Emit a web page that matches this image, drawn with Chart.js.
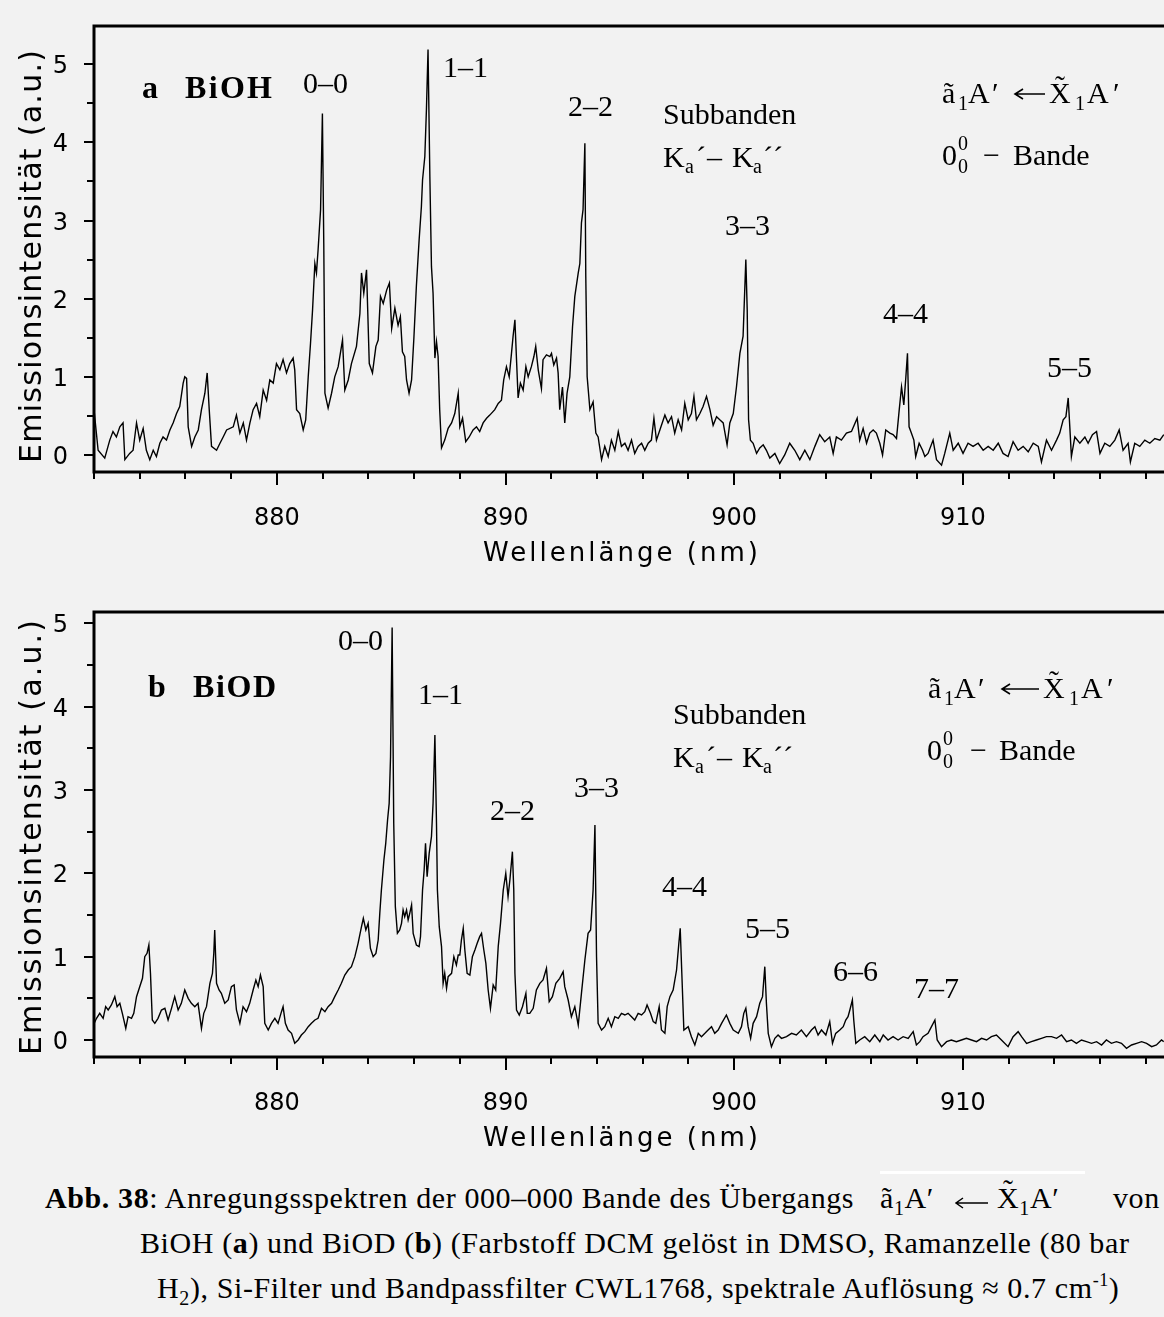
<!DOCTYPE html>
<html>
<head>
<meta charset="utf-8">
<title>BiOH / BiOD Anregungsspektren</title>
<script src="https://cdn.jsdelivr.net/npm/chart.js@4.4.1/dist/chart.umd.min.js"></script>
<style>
  html, body { margin: 0; padding: 0; background: #f2f2f2; }
  body { position: relative; width: 1164px; height: 1317px; overflow: hidden; }
  canvas { position: absolute; left: 0; }
  #chartA { top: 0; }
  #chartB { top: 590px; }
  .c { position: absolute; font: 30px 'Liberation Serif', 'Times New Roman', serif; letter-spacing: 0.6px; line-height: 30px; white-space: nowrap; color: #000; }
  .lo { font-size: 20px; position: relative; top: 7px; }
  .hi { font-size: 18px; position: relative; top: -12px; }
  .tx { position: relative; }
  .tx i { position: absolute; left: 6px; top: -6px; font-style: normal; }
  #bar { position: absolute; left: 880px; top: 1171px; width: 205px; height: 3px; background: #fff; }
  #arr { position: absolute; left: 954px; top: 1196px; }
</style>
</head>
<body>
<canvas id="chartA" width="1164" height="590"></canvas>
<canvas id="chartB" width="1164" height="575"></canvas>

<div id="bar"></div>
<div class="c" style="left:45px;top:1183px"><b>Abb. 38</b>: Anregungsspektren der 000–000 Bande des Übergangs</div>
<div class="c" style="left:880px;top:1183px">ã<span class="lo">1</span>A′</div>
<svg id="arr" width="36" height="14" viewBox="0 0 36 14"><path d="M34 7 H2 M9 2 L2 7 L9 12" fill="none" stroke="#000" stroke-width="1.5"/></svg>
<div class="c" style="left:997px;top:1183px"><span class="tx">X<i>˜</i></span><span class="lo">1</span>A′</div>
<div class="c" style="left:1113px;top:1183px">von</div>
<div class="c" style="left:140px;top:1228px">BiOH (<b>a</b>) und BiOD (<b>b</b>) (Farbstoff DCM gelöst in DMSO, Ramanzelle (80 bar</div>
<div class="c" style="left:157px;top:1273px">H<span class="lo">2</span>), Si-Filter und Bandpassfilter CWL1768, spektrale Auflösung ≈ 0.7 cm<span class="hi">-1</span>)</div>

<script>
// axis ticks (nm / a.u.)
const xMinorTicks = [872, 874, 876, 878, 880, 882, 884, 886, 888, 890, 892, 894, 896, 898, 900, 902, 904, 906, 908, 910, 912, 914, 916, 918];
const xTickLabels = [880, 890, 900, 910];
const yMinorTicks = [0, 0.5, 1, 1.5, 2, 2.5, 3, 3.5, 4, 4.5, 5];
const yTickLabels = [0, 1, 2, 3, 4, 5];
const xTitle = 'Wellenlänge (nm)';
const yTitle = 'Emissionsintensität (a.u.)';

// BiOH excitation spectrum [wavelength nm, intensity]
const spectrumA = [
  [872.00, 0.58], [872.18, 0.06], [872.47, -0.04], [872.69, 0.19], [872.83, 0.30], [872.98, 0.23], [873.13, 0.36], [873.27, 0.41],
  [873.35, -0.06], [873.56, 0.02], [873.71, 0.06], [873.86, 0.41], [874.00, 0.19], [874.15, 0.34], [874.29, 0.06], [874.44, -0.06],
  [874.59, 0.06], [874.73, -0.02], [874.88, 0.15], [875.02, 0.23], [875.17, 0.19], [875.32, 0.32], [875.46, 0.41], [875.61, 0.53],
  [875.75, 0.62], [875.90, 0.92], [875.97, 1.00], [876.05, 0.98], [876.12, 0.36], [876.27, 0.11], [876.41, 0.23], [876.56, 0.32],
  [876.70, 0.58], [876.85, 0.79], [876.95, 1.05], [877.04, 0.58], [877.14, 0.11], [877.36, 0.06], [877.51, 0.15], [877.65, 0.23],
  [877.80, 0.32], [878.09, 0.36], [878.23, 0.51], [878.38, 0.28], [878.53, 0.41], [878.67, 0.19], [878.82, 0.41], [878.96, 0.58],
  [879.11, 0.66], [879.25, 0.49], [879.40, 0.83], [879.55, 0.70], [879.69, 0.96], [879.84, 0.92], [879.98, 1.17], [880.13, 1.09],
  [880.27, 1.22], [880.42, 1.05], [880.56, 1.17], [880.71, 1.24], [880.78, 1.09], [880.86, 0.58], [881.00, 0.53], [881.15, 0.32],
  [881.26, 0.45], [881.37, 1.00], [881.47, 1.43], [881.56, 1.86], [881.66, 2.45], [881.73, 2.33], [881.80, 2.62], [881.91, 3.14],
  [881.99, 4.37], [882.05, 2.71], [882.10, 0.79], [882.24, 0.60], [882.39, 0.79], [882.53, 1.00], [882.68, 1.13], [882.87, 1.47],
  [882.97, 0.83], [883.12, 0.96], [883.26, 1.17], [883.48, 1.39], [883.63, 1.81], [883.70, 2.33], [883.80, 2.07], [883.92, 2.37],
  [884.04, 1.17], [884.18, 1.05], [884.33, 1.39], [884.43, 1.47], [884.53, 2.03], [884.65, 1.94], [884.80, 2.11], [884.92, 2.20],
  [885.02, 1.62], [885.16, 1.88], [885.30, 1.66], [885.40, 1.77], [885.49, 1.32], [885.59, 1.26], [885.67, 0.96], [885.78, 0.79],
  [885.89, 0.96], [885.99, 1.49], [886.10, 2.16], [886.22, 2.75], [886.32, 3.18], [886.37, 3.52], [886.47, 3.82], [886.54, 4.42],
  [886.61, 5.19], [886.69, 3.56], [886.76, 2.41], [886.83, 2.07], [886.91, 1.24], [886.98, 1.45], [887.05, 1.26], [887.12, 0.58],
  [887.20, 0.09], [887.34, 0.19], [887.49, 0.34], [887.64, 0.41], [887.78, 0.53], [887.93, 0.79], [888.00, 0.36], [888.12, 0.47],
  [888.26, 0.17], [888.41, 0.23], [888.58, 0.32], [888.73, 0.36], [888.87, 0.30], [889.02, 0.41], [889.17, 0.47], [889.31, 0.51],
  [889.53, 0.58], [889.68, 0.66], [889.82, 0.70], [889.92, 0.96], [890.04, 1.13], [890.16, 1.00], [890.26, 1.30], [890.33, 1.52],
  [890.41, 1.73], [890.48, 1.22], [890.55, 0.73], [890.65, 0.92], [890.77, 0.83], [890.89, 1.13], [890.99, 1.00], [891.13, 1.13],
  [891.24, 1.26], [891.32, 1.39], [891.43, 1.09], [891.57, 0.85], [891.64, 1.22], [891.79, 1.28], [891.94, 1.26], [892.01, 1.30],
  [892.11, 1.15], [892.23, 1.24], [892.30, 1.05], [892.37, 0.58], [892.49, 0.87], [892.59, 0.41], [892.69, 0.79], [892.81, 1.00],
  [892.93, 1.64], [893.03, 2.03], [893.18, 2.33], [893.25, 2.45], [893.32, 2.97], [893.39, 3.14], [893.47, 3.99], [893.51, 2.28],
  [893.57, 1.00], [893.69, 0.58], [893.83, 0.68], [893.95, 0.28], [894.05, 0.23], [894.20, -0.06], [894.34, 0.11], [894.49, -0.02],
  [894.63, 0.19], [894.78, 0.06], [894.93, 0.30], [895.07, 0.11], [895.22, 0.15], [895.36, 0.06], [895.51, 0.19], [895.65, 0.02],
  [895.80, 0.11], [895.95, 0.15], [896.09, 0.06], [896.24, 0.15], [896.38, 0.19], [896.49, 0.47], [896.60, 0.19], [896.75, 0.32],
  [896.97, 0.51], [897.11, 0.41], [897.26, 0.49], [897.40, 0.28], [897.55, 0.45], [897.70, 0.32], [897.84, 0.66], [897.99, 0.45],
  [898.13, 0.53], [898.24, 0.75], [898.35, 0.45], [898.50, 0.53], [898.64, 0.62], [898.79, 0.75], [898.94, 0.58], [899.08, 0.38],
  [899.23, 0.49], [899.37, 0.45], [899.52, 0.41], [899.69, 0.13], [899.81, 0.41], [899.96, 0.53], [900.10, 0.87], [900.25, 1.30],
  [900.39, 1.52], [900.51, 2.50], [900.57, 1.86], [900.63, 0.45], [900.71, 0.19], [900.83, 0.15], [900.98, 0.02], [901.12, 0.09],
  [901.27, 0.13], [901.41, 0.06], [901.56, -0.04], [901.78, 0.02], [901.99, -0.11], [902.21, 0.00], [902.43, 0.15], [902.65, 0.06],
  [902.87, -0.06], [903.09, 0.06], [903.31, -0.06], [903.53, 0.11], [903.74, 0.26], [903.96, 0.17], [904.18, 0.23], [904.33, 0.02],
  [904.47, 0.23], [904.69, 0.19], [904.91, 0.28], [905.13, 0.30], [905.38, 0.47], [905.49, 0.19], [905.64, 0.34], [905.79, 0.15],
  [905.93, 0.28], [906.08, 0.32], [906.22, 0.28], [906.37, 0.15], [906.49, 0.00], [906.63, 0.32], [906.81, 0.28], [906.95, 0.26],
  [907.10, 0.21], [907.22, 0.58], [907.32, 0.87], [907.42, 0.64], [907.51, 1.00], [907.58, 1.30], [907.65, 0.36], [907.75, 0.28],
  [907.86, 0.19], [907.94, -0.02], [908.09, 0.15], [908.24, 0.06], [908.34, -0.02], [908.48, 0.02], [908.70, 0.19], [908.85, -0.06],
  [909.07, -0.13], [909.21, 0.02], [909.43, 0.28], [909.58, 0.06], [909.80, 0.15], [910.01, 0.02], [910.23, 0.15], [910.45, 0.11],
  [910.67, 0.15], [910.89, 0.06], [911.11, 0.11], [911.33, 0.06], [911.55, 0.15], [911.76, 0.02], [911.98, -0.02], [912.20, 0.17],
  [912.42, 0.06], [912.64, 0.11], [912.86, 0.04], [913.08, 0.15], [913.30, 0.11], [913.44, -0.09], [913.66, 0.19], [913.88, 0.06],
  [914.10, 0.19], [914.24, 0.28], [914.39, 0.45], [914.51, 0.49], [914.61, 0.73], [914.68, 0.36], [914.75, -0.02], [914.90, 0.23],
  [915.12, 0.15], [915.34, 0.23], [915.48, 0.15], [915.67, 0.26], [915.85, 0.30], [916.00, 0.02], [916.21, 0.15], [916.43, 0.11],
  [916.65, 0.19], [916.84, 0.32], [917.01, 0.06], [917.23, 0.15], [917.33, -0.09], [917.52, 0.15], [917.74, 0.11], [917.96, 0.19],
  [918.18, 0.15], [918.40, 0.21], [918.62, 0.19], [918.79, 0.26]
];

// BiOD excitation spectrum [wavelength nm, intensity]
const spectrumB = [
  [872.01, 0.20], [872.11, 0.26], [872.25, 0.32], [872.40, 0.26], [872.51, 0.40], [872.62, 0.36], [872.76, 0.42], [872.91, 0.52],
  [873.01, 0.40], [873.13, 0.44], [873.24, 0.32], [873.39, 0.14], [873.49, 0.28], [873.64, 0.26], [873.74, 0.32], [873.86, 0.52],
  [874.00, 0.64], [874.12, 0.74], [874.22, 1.00], [874.32, 1.04], [874.40, 1.14], [874.47, 0.80], [874.55, 0.24], [874.66, 0.20],
  [874.80, 0.26], [874.95, 0.36], [875.10, 0.38], [875.24, 0.24], [875.39, 0.38], [875.53, 0.52], [875.68, 0.36], [875.82, 0.44],
  [875.97, 0.60], [876.12, 0.50], [876.26, 0.44], [876.41, 0.40], [876.55, 0.44], [876.70, 0.14], [876.80, 0.32], [876.92, 0.40],
  [877.07, 0.68], [877.18, 0.80], [877.24, 1.04], [877.28, 1.32], [877.36, 0.68], [877.47, 0.60], [877.57, 0.56], [877.72, 0.44],
  [877.87, 0.48], [878.01, 0.64], [878.13, 0.66], [878.23, 0.36], [878.38, 0.20], [878.52, 0.40], [878.67, 0.34], [878.81, 0.44],
  [878.96, 0.60], [879.08, 0.72], [879.18, 0.64], [879.28, 0.78], [879.40, 0.64], [879.47, 0.20], [879.62, 0.12], [879.76, 0.20],
  [879.91, 0.26], [880.05, 0.20], [880.20, 0.34], [880.27, 0.40], [880.37, 0.20], [880.49, 0.12], [880.64, 0.08], [880.78, -0.04],
  [880.93, 0.00], [881.07, 0.06], [881.22, 0.10], [881.37, 0.16], [881.51, 0.20], [881.66, 0.24], [881.80, 0.26], [881.95, 0.38],
  [882.10, 0.34], [882.24, 0.40], [882.39, 0.44], [882.53, 0.52], [882.68, 0.60], [882.82, 0.68], [882.97, 0.78], [883.12, 0.84],
  [883.26, 0.88], [883.41, 1.00], [883.55, 1.16], [883.70, 1.36], [883.78, 1.46], [883.89, 1.32], [883.99, 1.40], [884.09, 1.10],
  [884.21, 1.00], [884.33, 1.04], [884.43, 1.20], [884.50, 1.52], [884.57, 1.80], [884.68, 2.16], [884.76, 2.36], [884.84, 2.64],
  [884.91, 2.84], [884.97, 3.40], [885.04, 4.95], [885.11, 2.60], [885.18, 1.60], [885.27, 1.28], [885.37, 1.32], [885.45, 1.40],
  [885.52, 1.56], [885.59, 1.48], [885.67, 1.56], [885.74, 1.44], [885.81, 1.52], [885.89, 1.62], [885.96, 1.28], [886.10, 1.14],
  [886.22, 1.12], [886.28, 1.24], [886.37, 1.80], [886.44, 2.04], [886.50, 2.36], [886.57, 1.96], [886.66, 2.24], [886.76, 2.44],
  [886.83, 2.84], [886.91, 3.66], [886.98, 2.60], [887.02, 1.80], [887.10, 1.36], [887.20, 1.12], [887.27, 0.68], [887.34, 0.80],
  [887.42, 0.62], [887.49, 0.76], [887.64, 0.80], [887.74, 1.00], [887.85, 0.90], [887.93, 1.02], [888.00, 1.02], [888.07, 1.20],
  [888.15, 1.34], [888.22, 1.08], [888.32, 0.80], [888.44, 0.78], [888.55, 1.00], [888.66, 1.08], [888.76, 1.16], [888.87, 1.24],
  [888.95, 1.28], [889.05, 1.08], [889.14, 0.92], [889.24, 0.60], [889.34, 0.38], [889.46, 0.66], [889.57, 0.60], [889.68, 1.12],
  [889.78, 1.40], [889.90, 1.80], [890.01, 2.00], [890.11, 1.72], [890.19, 1.92], [890.30, 2.26], [890.36, 1.80], [890.41, 0.80],
  [890.48, 0.36], [890.60, 0.30], [890.74, 0.40], [890.89, 0.56], [890.95, 0.32], [891.06, 0.32], [891.21, 0.38], [891.35, 0.60],
  [891.50, 0.68], [891.64, 0.72], [891.79, 0.86], [891.91, 0.46], [892.05, 0.52], [892.20, 0.68], [892.37, 0.74], [892.52, 0.82],
  [892.59, 0.64], [892.74, 0.48], [892.88, 0.28], [893.03, 0.40], [893.18, 0.18], [893.32, 0.56], [893.47, 0.96], [893.61, 1.28],
  [893.72, 1.32], [893.83, 1.80], [893.91, 2.58], [893.98, 1.00], [894.05, 0.20], [894.20, 0.12], [894.34, 0.16], [894.49, 0.26],
  [894.63, 0.16], [894.78, 0.28], [894.93, 0.26], [895.07, 0.32], [895.22, 0.30], [895.36, 0.32], [895.51, 0.28], [895.65, 0.24],
  [895.80, 0.32], [895.95, 0.30], [896.09, 0.34], [896.19, 0.42], [896.34, 0.32], [896.46, 0.22], [896.57, 0.20], [896.72, 0.40],
  [896.82, 0.12], [896.97, 0.08], [897.07, 0.40], [897.19, 0.52], [897.33, 0.60], [897.48, 0.84], [897.58, 1.16], [897.64, 1.34],
  [897.71, 0.80], [897.80, 0.12], [897.99, 0.16], [898.13, 0.04], [898.28, -0.06], [898.43, 0.08], [898.57, 0.04], [898.72, 0.08],
  [898.86, 0.12], [899.01, 0.16], [899.15, 0.08], [899.30, 0.12], [899.45, 0.20], [899.66, 0.30], [899.81, 0.20], [899.96, 0.12],
  [900.18, 0.08], [900.32, 0.16], [900.42, 0.32], [900.51, 0.38], [900.61, 0.16], [900.72, 0.02], [900.83, 0.20], [900.98, 0.28],
  [901.12, 0.44], [901.24, 0.52], [901.34, 0.88], [901.41, 0.44], [901.49, 0.08], [901.63, -0.08], [901.78, 0.02], [901.92, 0.06],
  [902.07, 0.02], [902.29, 0.04], [902.51, 0.08], [902.72, 0.06], [902.94, 0.12], [903.16, 0.04], [903.38, 0.12], [903.53, 0.16],
  [903.67, 0.06], [903.82, 0.12], [904.01, 0.06], [904.18, 0.22], [904.30, -0.04], [904.44, 0.08], [904.62, 0.12], [904.77, 0.16],
  [904.88, 0.24], [904.98, 0.28], [905.06, 0.36], [905.17, 0.48], [905.23, 0.24], [905.32, -0.04], [905.49, 0.00], [905.71, 0.04],
  [905.93, -0.02], [906.15, 0.06], [906.37, -0.02], [906.52, 0.06], [906.73, 0.00], [906.95, 0.04], [907.17, 0.00], [907.39, 0.04],
  [907.61, 0.02], [907.83, 0.10], [907.97, -0.06], [908.12, -0.02], [908.26, 0.04], [908.48, 0.08], [908.63, 0.16], [908.78, 0.24],
  [908.88, 0.00], [909.07, -0.08], [909.29, -0.02], [909.50, 0.00], [909.72, -0.02], [909.94, 0.00], [910.16, 0.02], [910.38, 0.00],
  [910.60, -0.02], [910.82, 0.02], [911.04, 0.00], [911.25, 0.04], [911.47, 0.06], [911.69, 0.00], [911.98, -0.08], [912.20, 0.04],
  [912.42, 0.10], [912.57, 0.04], [912.79, -0.04], [913.00, -0.02], [913.22, 0.00], [913.44, 0.02], [913.66, 0.04], [913.88, 0.04],
  [914.10, 0.02], [914.32, 0.06], [914.54, -0.02], [914.75, 0.00], [914.97, -0.04], [915.19, 0.00], [915.41, -0.02], [915.63, -0.04],
  [915.85, -0.02], [916.07, -0.06], [916.28, 0.00], [916.50, -0.04], [916.72, -0.02], [916.94, -0.04], [917.16, -0.10], [917.38, -0.06],
  [917.60, -0.04], [917.82, -0.02], [918.04, -0.04], [918.26, -0.08], [918.47, -0.06], [918.69, 0.00], [918.79, -0.02]
];

const SERIF = "'Liberation Serif', 'Times New Roman', serif";
const SANS = "'DejaVu Sans', sans-serif";

function put(ctx, s, x, y, size, bold) {
  ctx.font = (bold ? 'bold ' : '') + size + 'px ' + SERIF;
  ctx.fillText(s, x, y);
}

// stretch a string to a given length with letter spacing
function spaced(ctx, s, x, y, len) {
  ctx.letterSpacing = '0px';
  const natural = ctx.measureText(s).width;
  ctx.letterSpacing = ((len - natural) / (s.length - 1)) + 'px';
  ctx.fillText(s, x, y);
  ctx.letterSpacing = '0px';
}

// long left arrow, tip at x
function arrow(ctx, x, y, len) {
  ctx.save();
  ctx.lineWidth = 1.6;
  ctx.beginPath();
  ctx.moveTo(x + len, y);
  ctx.lineTo(x, y);
  ctx.moveTo(x + 8, y - 5);
  ctx.lineTo(x, y);
  ctx.lineTo(x + 8, y + 5);
  ctx.stroke();
  ctx.restore();
}

function kaLine(ctx, x, y) {
  put(ctx, 'Subbanden', x, y - 43, 30);
  put(ctx, 'K', x, y, 30);
  put(ctx, 'a', x + 22, y + 6, 20);
  put(ctx, '´', x + 33, y, 30);
  put(ctx, '–', x + 44, y, 30);
  put(ctx, 'K', x + 69, y, 30);
  put(ctx, 'a', x + 90, y + 6, 20);
  put(ctx, '´´', x + 100, y, 30);
}

function transition(ctx, x, y, arrowAt, xAt) {
  put(ctx, 'ã', x, y, 30);
  put(ctx, '1', x + 16, y + 7, 20);
  put(ctx, 'A', x + 26, y, 30);
  put(ctx, '′', x + 50, y, 30);
  arrow(ctx, x + arrowAt, y - 9, xAt - arrowAt - 4);
  put(ctx, 'X', x + xAt, y, 30);
  put(ctx, '˜', x + xAt + 6, y - 7, 30);
  put(ctx, '1', x + xAt + 26, y + 7, 20);
  put(ctx, 'A', x + xAt + 38, y, 30);
  put(ctx, '′', x + xAt + 64, y, 30);
}

function band(ctx, x, y, dashAt, bandeAt) {
  put(ctx, '0', x, y, 30);
  put(ctx, '0', x + 16, y - 15, 20);
  put(ctx, '0', x + 16, y + 8, 20);
  put(ctx, '−', x + dashAt, y, 30);
  put(ctx, 'Bande', x + bandeAt, y, 30);
}

function deco(cfg) {
  return {
    id: 'deco',
    afterDraw(chart) {
      const ctx = chart.ctx, a = chart.chartArea;
      const sx = chart.scales.x, sy = chart.scales.y;
      ctx.save();
      ctx.strokeStyle = '#000';
      ctx.fillStyle = '#000';

      ctx.lineWidth = 2;
      ctx.beginPath();
      xMinorTicks.forEach(v => {
        const px = Math.round(sx.getPixelForValue(v));
        const len = xTickLabels.includes(v) ? 13 : 7;
        ctx.moveTo(px, a.bottom);
        ctx.lineTo(px, a.bottom + len);
      });
      yMinorTicks.forEach(v => {
        const py = Math.round(sy.getPixelForValue(v));
        const len = yTickLabels.includes(v) ? 10 : 7;
        ctx.moveTo(a.left, py);
        ctx.lineTo(a.left - len, py);
      });
      ctx.stroke();

      ctx.lineWidth = 3;
      ctx.beginPath();
      ctx.moveTo(chart.width + 5, a.top);
      ctx.lineTo(a.left, a.top);
      ctx.lineTo(a.left, a.bottom);
      ctx.lineTo(chart.width + 5, a.bottom);
      ctx.stroke();

      ctx.font = '24px ' + SANS;
      ctx.textBaseline = 'alphabetic';
      ctx.textAlign = 'center';
      xTickLabels.forEach(v => ctx.fillText(String(v), sx.getPixelForValue(v), a.bottom + 53));
      ctx.textAlign = 'right';
      yTickLabels.forEach(v => ctx.fillText(String(v), a.left - 26, sy.getPixelForValue(v) + 9));

      ctx.textAlign = 'left';
      ctx.font = '26px ' + SANS;
      spaced(ctx, xTitle, 483, a.bottom + 89, 275);

      ctx.save();
      ctx.translate(41, cfg.yTitleFrom);
      ctx.rotate(-Math.PI / 2);
      ctx.font = '30px ' + SANS;
      spaced(ctx, yTitle, 0, 0, cfg.yTitleLen);
      ctx.restore();

      cfg.notes(ctx);
      ctx.restore();
    }
  };
}

function makeChart(id, points, yMin, yMax, pad, cfg) {
  return new Chart(document.getElementById(id), {
    type: 'line',
    data: {
      datasets: [{
        data: points.map(p => ({ x: p[0], y: p[1] })),
        borderColor: '#000',
        borderWidth: 1.4,
        pointRadius: 0,
        tension: 0,
        fill: false
      }]
    },
    options: {
      responsive: false,
      animation: false,
      layout: { padding: pad },
      plugins: { legend: { display: false }, tooltip: { enabled: false } },
      scales: {
        x: { type: 'linear', min: 872, max: 918.8, display: false },
        y: { type: 'linear', min: yMin, max: yMax, display: false }
      }
    },
    plugins: [deco(cfg)]
  });
}

// a  BiOH
makeChart('chartA', spectrumA, -0.218, 5.49, { left: 94, top: 26, right: 0, bottom: 118 }, {
  yTitleFrom: 463, yTitleLen: 413,
  notes(ctx) {
    put(ctx, 'a', 142, 98, 32, true);
    ctx.font = 'bold 32px ' + SERIF;
    spaced(ctx, 'BiOH', 185, 98, 87);
    put(ctx, '0–0', 303, 93, 30);
    put(ctx, '1–1', 443, 77, 30);
    put(ctx, '2–2', 568, 116, 30);
    put(ctx, '3–3', 725, 235, 30);
    put(ctx, '4–4', 883, 323, 30);
    put(ctx, '5–5', 1047, 377, 30);
    kaLine(ctx, 663, 167);
    transition(ctx, 942, 103, 73, 107);
    band(ctx, 942, 165, 41, 71);
  }
});

// b  BiOD
makeChart('chartB', spectrumB, -0.204, 5.136, { left: 94, top: 22, right: 0, bottom: 108 }, {
  yTitleFrom: 465, yTitleLen: 435,
  notes(ctx) {
    put(ctx, 'b', 148, 107, 32, true);
    ctx.font = 'bold 32px ' + SERIF;
    spaced(ctx, 'BiOD', 193, 107, 83);
    put(ctx, '0–0', 338, 60, 30);
    put(ctx, '1–1', 418, 114, 30);
    put(ctx, '2–2', 490, 230, 30);
    put(ctx, '3–3', 574, 207, 30);
    put(ctx, '4–4', 662, 306, 30);
    put(ctx, '5–5', 745, 348, 30);
    put(ctx, '6–6', 833, 391, 30);
    put(ctx, '7–7', 914, 408, 30);
    kaLine(ctx, 673, 177);
    transition(ctx, 928, 108, 74, 115);
    band(ctx, 927, 170, 43, 72);
  }
});
</script>
</body>
</html>
